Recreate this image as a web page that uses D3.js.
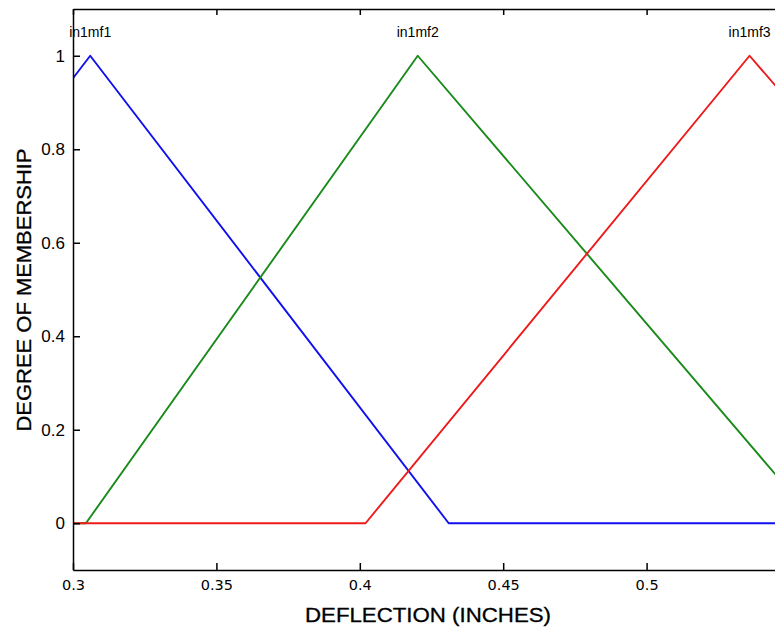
<!DOCTYPE html>
<html>
<head>
<meta charset="utf-8">
<script src="https://cdn.jsdelivr.net/npm/d3@7"></script>
<style>
  body { margin: 0; background: #fff; }
  svg { display: block; }
  .axis path, .axis line { stroke: #000; stroke-width: 1.5; }
  .ytick text { font-family: "Liberation Sans", Arial, sans-serif; font-size: 17px; fill: #000; }
  .xtick text { font-family: "DejaVu Sans", Verdana, sans-serif; font-size: 14.5px; fill: #000; }
</style>
</head>
<body>
<script>
// membership function breakpoints
const mfNames = ["in1mf1", "in1mf2", "in1mf3"];
const mfColors = ["#1010ee", "#1a8a1a", "#ee1a1a"];
const mfPeaks = [0.306, 0.4202, 0.5359];
const mf1X = [0.3, 0.306, 0.431, 0.55];
const mf1Y = [0.952, 1, 0, 0];
const mf2X = [0.3, 0.3045, 0.4202, 0.55];
const mf2Y = [0, 0, 1, 0.068];
const mf3X = [0.3, 0.402, 0.5359, 0.55];
const mf3Y = [0, 0, 1, 0.9];
const xTicks = [0.3, 0.35, 0.4, 0.45, 0.5];
const xTickLabels = ["0.3", "0.35", "0.4", "0.45", "0.5"];
const yTicks = [0, 0.2, 0.4, 0.6, 0.8, 1];
const yTickLabels = ["0", "0.2", "0.4", "0.6", "0.8", "1"];

const w = 775, h = 629;
const margin = {top: 9, left: 73, bottom: 59};
const plotRight = 790; // right edge of frame lies outside the picture

const svg = d3.select("body").append("svg")
  .attr("width", w)
  .attr("height", h);

const x = d3.scaleLinear().domain([0.3, 0.55]).range([margin.left, plotRight]);
const y = d3.scaleLinear().domain([-0.1, 1.1]).range([h - margin.bottom, margin.top]);

//clip the curves to the plot box
svg.append("clipPath").attr("id", "clip")
  .append("rect")
  .attr("x", x(0.3)).attr("y", y(1.1))
  .attr("width", x(0.55) - x(0.3)).attr("height", y(-0.1) - y(1.1));

const series = [
  d3.zip(mf1X, mf1Y),
  d3.zip(mf2X, mf2Y),
  d3.zip(mf3X, mf3Y)
];

const line = d3.line()
  .x(function(d){ return x(d[0]) })
  .y(function(d){ return y(d[1]) });

svg.append("g").attr("clip-path", "url(#clip)")
  .selectAll(".mf")
  .data(series)
  .enter()
  .append("path")
  .classed("mf", true)
  .attr("d", line)
  .attr("fill", "none")
  .attr("stroke", function(d, i){ return mfColors[i] })
  .attr("stroke-width", 1.9)
  .attr("stroke-linejoin", "round");

//axes, ticks pointing inward
const xAxis = d3.axisBottom(x)
  .tickValues(xTicks)
  .tickFormat(function(d, i){ return xTickLabels[i] })
  .tickSizeInner(-7).tickSizeOuter(0).tickPadding(10);
svg.append("g")
  .attr("class", "axis xtick")
  .attr("transform", "translate(0," + y(-0.1) + ")")
  .call(xAxis);

const topAxis = d3.axisTop(x)
  .tickValues(xTicks)
  .tickFormat("")
  .tickSizeInner(-6).tickSizeOuter(0);
svg.append("g")
  .attr("class", "axis")
  .attr("transform", "translate(0," + y(1.1) + ")")
  .call(topAxis);

const yAxis = d3.axisLeft(y)
  .tickValues(yTicks)
  .tickFormat(function(d, i){ return yTickLabels[i] })
  .tickSizeInner(-7).tickSizeOuter(0).tickPadding(8);
svg.append("g")
  .attr("class", "axis ytick")
  .attr("transform", "translate(" + x(0.3) + ",0)")
  .call(yAxis);

svg.selectAll(".axis text").attr("font-family", null).attr("font-size", null);

//curve names above their peaks
svg.selectAll(".mflabel")
  .data(mfNames)
  .enter()
  .append("text")
  .classed("mflabel", true)
  .attr("x", function(d, i){ return x(mfPeaks[i]) })
  .attr("y", 37)
  .attr("text-anchor", "middle")
  .attr("font-family", "Liberation Sans, Arial, sans-serif")
  .attr("font-size", 14)
  .text(function(d){ return d });

//axis titles
svg.append("text")
  .attr("x", 428)
  .attr("y", 622)
  .attr("text-anchor", "middle")
  .attr("font-family", "Liberation Sans, Arial, sans-serif")
  .attr("font-size", 20)
  .attr("textLength", 246)
  .attr("lengthAdjust", "spacingAndGlyphs")
  .attr("stroke", "#000").attr("stroke-width", 0.3)
  .text("DEFLECTION (INCHES)");

svg.append("text")
  .attr("transform", "translate(31,290) rotate(-90)")
  .attr("text-anchor", "middle")
  .attr("font-family", "Liberation Sans, Arial, sans-serif")
  .attr("font-size", 20)
  .attr("textLength", 283)
  .attr("lengthAdjust", "spacingAndGlyphs")
  .attr("stroke", "#000").attr("stroke-width", 0.3)
  .text("DEGREE OF MEMBERSHIP");
</script>
</body>
</html>
